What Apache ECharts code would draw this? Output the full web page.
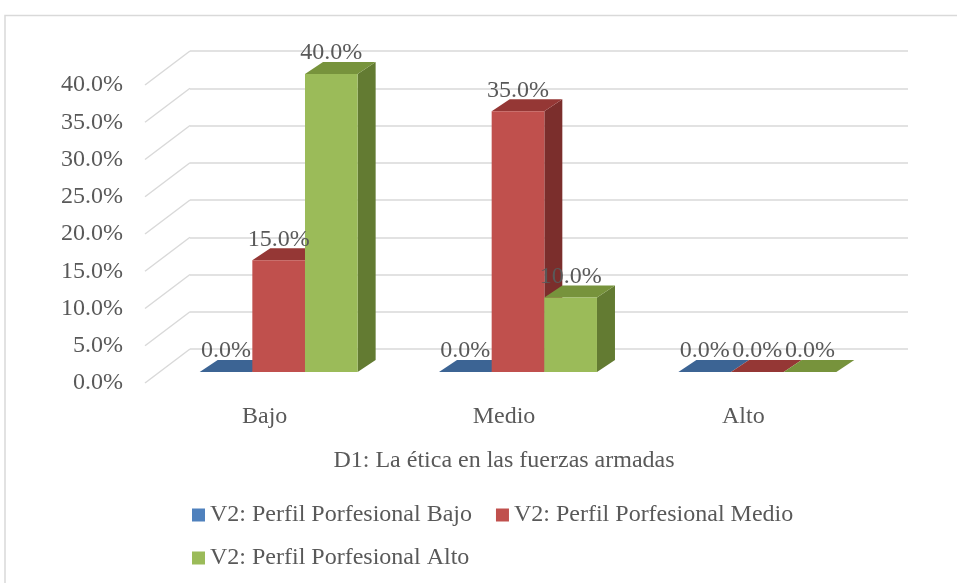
<!DOCTYPE html>
<html>
<head>
<meta charset="utf-8">
<script src="https://cdn.jsdelivr.net/npm/echarts@6/dist/echarts.min.js"></script>
<style>
html, body { margin: 0; padding: 0; background: #fff; }
#chart { width: 957px; height: 583px; }
</style>
</head>
<body>
<div id="chart"></div>
<script>
// data
const categories = ['Bajo', 'Medio', 'Alto'];
const seriesNames = ['V2: Perfil Porfesional Bajo', 'V2: Perfil Porfesional Medio', 'V2: Perfil Porfesional Alto'];
const perfilBajo = [0, 0, 0];
const perfilMedio = [15, 35, 0];
const perfilAlto = [40, 10, 0];
const yTicks = [0, 5, 10, 15, 20, 25, 30, 35, 40];
const axisName = 'D1: La ética en las fuerzas armadas';

const FONT = 'Liberation Serif';
const TXT = '#595959';
const GRID_C = '#d9d9d9';

// fake 3d offsets (px)
const WALL_DX = 45, WALL_DY = -34;   // front plane -> back wall
const BAR_PX = 14, BAR_PY = -11;     // front plane -> bar front face
const DEPTH_X = 18, DEPTH_Y = -12;   // bar depth

const faces = [
    {front: '#4f81bd', top: '#3c6494', side: '#385d8a'},
    {front: '#c0504d', top: '#953735', side: '#7b2e2c'},
    {front: '#9bbb59', top: '#77933c', side: '#637b32'}
];

function barRenderer(si) {
    return function (params, api) {
        let ci = api.value(0);
        let v = api.value(1);
        let base = api.coord([ci, 0]);
        let top = api.coord([ci, v]);
        let band = api.size([1, 0])[0];
        let bw = band * 0.22;
        let x0 = base[0] + BAR_PX - 1.5 * bw + si * bw;
        let x1 = x0 + bw;
        let yb = base[1] + BAR_PY;
        let yt = top[1] + BAR_PY;
        let c = faces[si];
        let children = [];
        if (yb - yt > 0) {
            children.push({
                type: 'polygon',
                shape: {points: [[x1, yt], [x1 + DEPTH_X, yt + DEPTH_Y], [x1 + DEPTH_X, yb + DEPTH_Y], [x1, yb]]},
                style: {fill: c.side}
            });
        }
        children.push({
            type: 'polygon',
            shape: {points: [[x0, yt], [x0 + DEPTH_X, yt + DEPTH_Y], [x1 + DEPTH_X, yt + DEPTH_Y], [x1, yt]]},
            style: {fill: c.top}
        });
        if (yb - yt > 0) {
            children.push({
                type: 'rect',
                shape: {x: x0, y: yt, width: bw, height: yb - yt},
                style: {fill: c.front}
            });
        }
        children.push({
            type: 'text',
            z2: 100,
            style: {
                text: v.toFixed(1) + '%',
                x: x0 + bw / 2,
                y: yt + DEPTH_Y - 9,
                align: 'center',
                verticalAlign: 'middle',
                fontFamily: FONT,
                fontSize: 24,
                fill: TXT
            }
        });
        return {type: 'group', children: children};
    };
}

function wallRenderer(params, api) {
    let p = api.coord([0, api.value(1)]);
    let x = params.coordSys.x;
    return {
        type: 'line',
        shape: {x1: x, y1: p[1], x2: x + WALL_DX, y2: p[1] + WALL_DY},
        style: {stroke: GRID_C, lineWidth: 1.5}
    };
}

let seriesValues = [perfilBajo, perfilMedio, perfilAlto];

let barSeries = seriesValues.map((vals, si) => ({
    name: seriesNames[si],
    type: 'custom',
    xAxisIndex: 0,
    yAxisIndex: 0,
    renderItem: barRenderer(si),
    encode: {x: 0, y: 1},
    itemStyle: {color: faces[si].front},
    data: vals.map((v, i) => [i, v])
}));

let legendBase = {
    left: 187,
    icon: 'rect',
    itemWidth: 13,
    itemHeight: 13,
    itemGap: 24,
    textStyle: {fontFamily: FONT, fontSize: 24, color: TXT, lineHeight: 24}
};

let chart = echarts.init(document.getElementById('chart'));
chart.setOption({
    animation: false,
    color: faces.map(f => f.front),
    graphic: [{
        type: 'rect',
        shape: {x: 5, y: 15.5, width: 1000, height: 1000},
        style: {fill: 'none', stroke: GRID_C, lineWidth: 1.5},
        silent: true
    }],
    grid: [
        {left: 145, top: 85, width: 718, height: 298},
        {left: 145 + WALL_DX, top: 85 + WALL_DY, width: 718, height: 298}
    ],
    xAxis: [{
        type: 'category',
        gridIndex: 0,
        data: categories,
        axisLine: {show: false},
        axisTick: {show: false},
        axisLabel: {margin: 22, fontFamily: FONT, fontSize: 24, color: TXT},
        name: axisName,
        nameLocation: 'middle',
        nameGap: 66,
        nameTextStyle: {fontFamily: FONT, fontSize: 24, color: TXT}
    }, {
        type: 'category',
        gridIndex: 1,
        data: categories,
        show: false
    }],
    yAxis: [{
        type: 'value',
        gridIndex: 0,
        min: 0,
        max: 40,
        interval: 5,
        axisLine: {show: false},
        axisTick: {show: false},
        splitLine: {show: false},
        axisLabel: {
            margin: 22,
            fontFamily: FONT,
            fontSize: 24,
            color: TXT,
            padding: [8, 0, 0, 0],
            formatter: v => v.toFixed(1) + '%'
        }
    }, {
        type: 'value',
        gridIndex: 1,
        min: 0,
        max: 40,
        interval: 5,
        axisLine: {show: false},
        axisTick: {show: false},
        axisLabel: {show: false},
        splitLine: {show: true, lineStyle: {color: GRID_C, width: 1.5}}
    }],
    legend: [
        Object.assign({data: seriesNames.slice(0, 2), top: 498}, legendBase),
        Object.assign({data: seriesNames.slice(2), top: 541}, legendBase)
    ],
    series: [{
        type: 'custom',
        xAxisIndex: 0,
        yAxisIndex: 0,
        silent: true,
        renderItem: wallRenderer,
        encode: {x: 0, y: 1},
        data: yTicks.map(v => [0, v])
    }].concat(barSeries)
});
</script>
</body>
</html>
